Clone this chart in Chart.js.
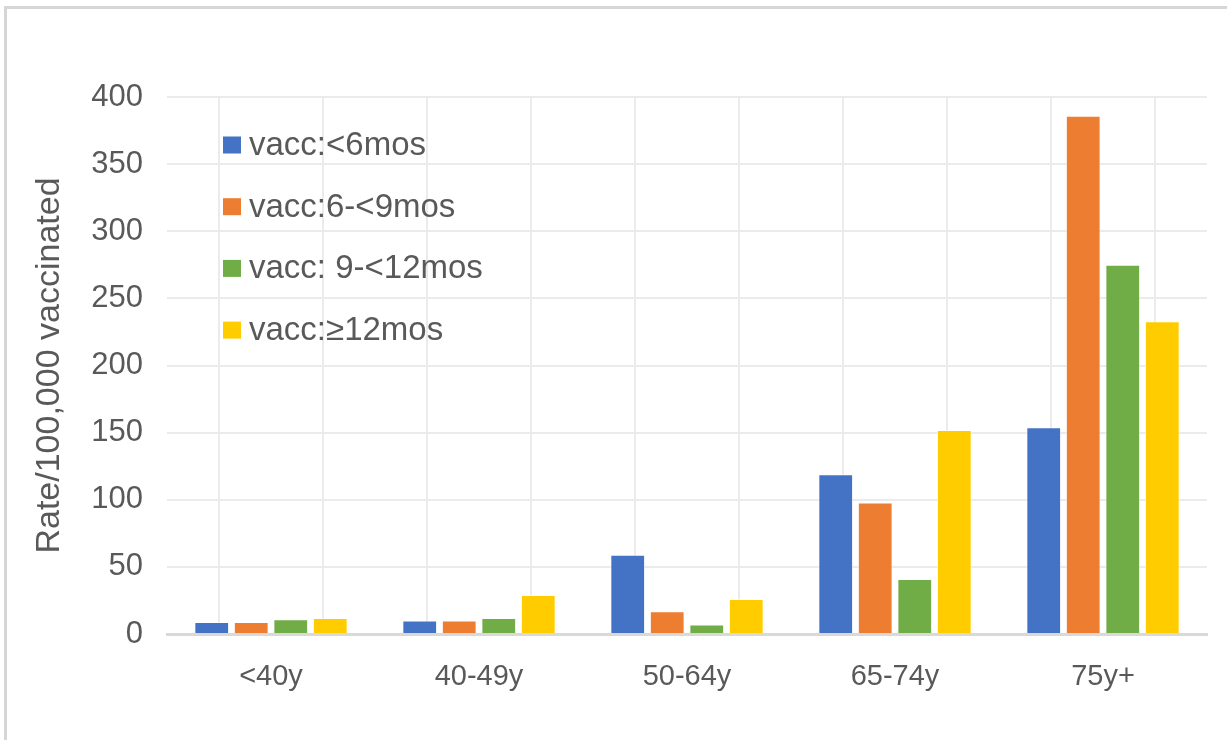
<!DOCTYPE html>
<html>
<head>
<meta charset="utf-8">
<script src="https://cdn.jsdelivr.net/npm/chart.js@4"></script>
<style>
  html, body { margin: 0; padding: 0; background: #fff; }
  #wrap { position: relative; width: 1227px; height: 740px; overflow: hidden; }
  #frame { position: absolute; left: 4px; top: 6px; width: 1260px; height: 780px; border: 3px solid #d6d6d6; box-sizing: border-box; }
  #bkgcanvas { position: absolute; left: 0; top: 0; }
</style>
</head>
<body>
<div id="wrap">
  <div id="frame"></div>
  <canvas id="bkgcanvas" width="1227" height="740"></canvas>
</div>
<script>
// age groups on the x axis
const xlabels = ['<40y', '40-49y', '50-64y', '65-74y', '75y+'];

// series names
const seriesNames = ['vacc:<6mos', 'vacc:6-<9mos', 'vacc: 9-<12mos', 'vacc:\u226512mos'];

// values (rate per 100,000 vaccinated)
const lt6 = [9, 10, 59, 119, 154];
const m6to9 = [9, 10, 17, 98, 386];
const m9to12 = [11, 12, 7, 41, 275];
const ge12 = [12, 29, 26, 152, 233];

const colors = ['#4472C4', '#ED7D31', '#70AD47', '#FFCC00'];

const yTicks = [0, 50, 100, 150, 200, 250, 300, 350, 400];

const fontFamily = '"Liberation Sans", Arial, sans-serif';
const textColor = '#595959';

// legend drawn inside the plot, top-left, stacked vertically
const insideLegend = {
  id: 'insideLegend',
  afterDraw(chart) {
    const ctx = chart.ctx;
    ctx.save();
    ctx.font = '33px ' + fontFamily;
    ctx.textBaseline = 'middle';
    chart.data.datasets.forEach((ds, i) => {
      const y = 145 + i * 61.7;
      ctx.fillStyle = ds.backgroundColor;
      ctx.fillRect(223, y - 8.5, 18, 17);
      ctx.fillStyle = textColor;
      ctx.fillText(ds.label, 249, y + 1);
    });
    ctx.restore();
  },
};

const allValues = [lt6, m6to9, m9to12, ge12];

const chartdata = {
  labels: xlabels,
  datasets: seriesNames.map((name, i) => ({
    label: name,
    data: allValues[i],
    xAxisID: 'x',
    yAxisID: 'y',
    backgroundColor: colors[i],
    borderColor: 'rgba(255,255,255,0.55)',
    borderWidth: 1,
    categoryPercentage: 0.76,
    barPercentage: 0.88,
  })),
};

const chartconfig = {
  type: 'bar',
  data: chartdata,
  plugins: [insideLegend],
  options: {
    responsive: false,
    animation: false,
    layout: { padding: { top: 97, right: 20, left: 0, bottom: 0 } },
    scales: {
      x: {
        type: 'category',
        grid: { display: false },
        border: { display: true, color: '#d9d9d9', width: 3 },
        ticks: { color: textColor, font: { family: fontFamily, size: 29 }, padding: 18 },
        afterFit: (scale) => { scale.height = 106; },
      },
      // helper axis, only used to draw vertical grid lines at every half category
      xg: {
        type: 'linear',
        position: 'top',
        offset: false,
        min: 0,
        max: xlabels.length,
        ticks: { display: false, stepSize: 0.5 },
        border: { display: false },
        grid: { color: '#ebebeb', lineWidth: 2, drawTicks: false },
      },
      y: {
        min: 0,
        max: 400,
        afterBuildTicks: (scale) => { scale.ticks = yTicks.map((v) => ({ value: v })); },
        border: { display: false },
        grid: { color: '#ebebeb', lineWidth: 2, drawTicks: false },
        ticks: { color: textColor, font: { family: fontFamily, size: 31 }, padding: 24 },
        title: {
          display: true,
          text: 'Rate/100,000 vaccinated',
          color: textColor,
          font: { family: fontFamily, size: 34 },
          padding: { top: 29, bottom: 0 },
        },
        afterFit: (scale) => { scale.width = 167; },
      },
    },
    plugins: {
      legend: { display: false },
      tooltip: { enabled: false },
      title: { display: false },
    },
  },
};

const chart = new Chart('bkgcanvas', chartconfig);
</script>
</body>
</html>
